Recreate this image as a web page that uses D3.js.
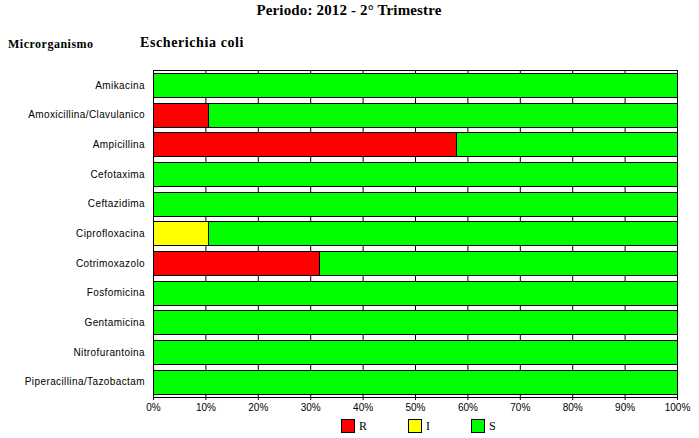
<!DOCTYPE html>
<html><head><meta charset="utf-8">
<script src="https://cdn.jsdelivr.net/npm/d3@7"></script>
<style>body{margin:0;background:#fff}</style>
</head><body>
<script>
const categories = ["Amikacina","Amoxicillina/Clavulanico","Ampicillina","Cefotaxima","Ceftazidima","Ciprofloxacina","Cotrimoxazolo","Fosfomicina","Gentamicina","Nitrofurantoina","Piperacillina/Tazobactam"];
const seriesNames = ["R","I","S"];
const seriesColors = ["#ff0000","#ffff00","#00ff00"];
const valuesR = [0,10.5,57.9,0,0,0,31.6,0,0,0,0];
const valuesI = [0,0,0,0,0,10.5,0,0,0,0,0];
const valuesS = [100,89.5,42.1,100,100,89.5,68.4,100,100,100,100];
const tickValues = [0,10,20,30,40,50,60,70,80,90,100];
const title = "Periodo: 2012 - 2° Trimestre";
const subLabel = "Microrganismo";
const organism = "Escherichia coli";

const W=699,H=438;
const svg=d3.select("body").append("svg").attr("width",W).attr("height",H);
const L=153,R=677,T=70,B=397;
const x=d3.scaleLinear().domain([0,100]).range([L,R]);
const y=d3.scaleBand().domain(categories).range([T,B]).paddingInner(0.18).paddingOuter(0.1);

svg.append("text").attr("x",349).attr("y",15).attr("text-anchor","middle")
 .attr("font-family","Liberation Serif").attr("font-weight","bold").attr("font-size",15).attr("letter-spacing",0.15).text(title);
svg.append("text").attr("x",8).attr("y",48)
 .attr("font-family","Liberation Serif").attr("font-weight","bold").attr("font-size",12).attr("letter-spacing",0.5).text(subLabel);
svg.append("text").attr("x",140).attr("y",47)
 .attr("font-family","Liberation Serif").attr("font-weight","bold").attr("font-size",14).attr("letter-spacing",0.6).text(organism);

// gridlines
svg.append("g").selectAll("line").data(tickValues.slice(1,-1)).join("line")
 .attr("x1",d=>x(d)+0.5).attr("x2",d=>x(d)+0.5).attr("y1",T).attr("y2",B+3)
 .attr("stroke","#000").attr("stroke-width",1);
svg.append("g").selectAll("line").data([0,100]).join("line")
 .attr("x1",d=>x(d)+0.5).attr("x2",d=>x(d)+0.5).attr("y1",B).attr("y2",B+3)
 .attr("stroke","#000");

const data=categories.map((c,i)=>({cat:c,R:valuesR[i],I:valuesI[i],S:valuesS[i]}));
const stack=d3.stack().keys(seriesNames)(data);
const g=svg.append("g");
stack.forEach((s,si)=>{
  g.selectAll(null).data(s.filter(d=>d[1]-d[0]>0)).join("rect")
   .attr("x",d=>Math.round(x(d[0]))+0.5).attr("y",d=>Math.round(y(d.data.cat))+0.5)
   .attr("width",d=>Math.round(x(d[1]))-Math.round(x(d[0])))
   .attr("height",Math.round(y.bandwidth()))
   .attr("fill",seriesColors[si]).attr("stroke","#000").attr("stroke-width",1);
});

svg.append("rect").attr("x",L+0.5).attr("y",T+0.5).attr("width",R-L).attr("height",B-T)
 .attr("fill","none").attr("stroke","#000");

svg.append("g").selectAll("text").data(categories).join("text")
 .attr("x",145).attr("y",d=>y(d)+y.bandwidth()/2+3.5).attr("text-anchor","end")
 .attr("font-family","Liberation Sans").attr("font-size",10).attr("letter-spacing",0.4).text(d=>d);

svg.append("g").selectAll("text").data(tickValues).join("text")
 .attr("x",d=>x(d)+0.5).attr("y",411).attr("text-anchor","middle")
 .attr("font-family","Liberation Sans").attr("font-size",10).text(d=>d+"%");

const lx=[341,408,471];
seriesNames.forEach((n,i)=>{
  svg.append("rect").attr("x",lx[i]+0.5).attr("y",419.5).attr("width",13).attr("height",13)
   .attr("fill",seriesColors[i]).attr("stroke","#000");
  svg.append("text").attr("x",lx[i]+18).attr("y",430)
   .attr("font-family","Liberation Serif").attr("font-size",12).text(n);
});
</script>
</body></html>
